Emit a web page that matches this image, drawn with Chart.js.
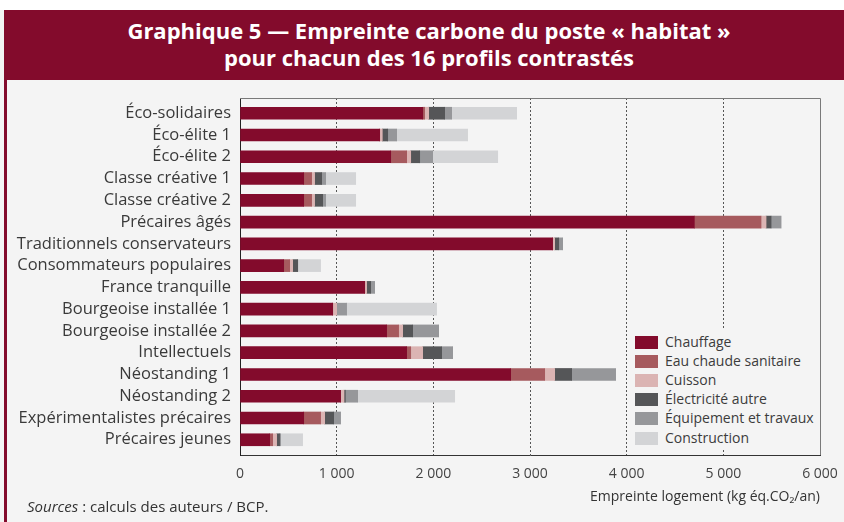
<!DOCTYPE html>
<html>
<head>
<meta charset="utf-8">
<script src="https://cdn.jsdelivr.net/npm/chart.js@4"></script>
<style>
  html, body { margin: 0; padding: 0; }
  body { width: 844px; height: 522px; overflow: hidden; background: #f4f4f4; position: relative; font-family: "Open Sans", sans-serif; }
  #topWhite { position: absolute; left: 0; top: 0; width: 844px; height: 10px; background: #fff; }
  #header { position: absolute; left: 4px; top: 10px; width: 850px; height: 70px; background: #830b2c; color: #fff;
    font: bold 22px "Open Sans", sans-serif; line-height: 27px; text-align: center; padding-top: 7px; box-sizing: border-box; }
  #leftBar { position: absolute; left: 4px; top: 80px; width: 3px; height: 442px; background: #830b2c; }
  #wrap { position: absolute; left: 0; top: 0; width: 844px; height: 522px; }
  #legend { position: absolute; left: 628px; top: 330px; width: 191px; height: 120px; background: #f4f4f4; }
  .item { position: absolute; left: 7px; height: 19px; font-size: 14px; color: #3c3c3c; line-height: 19px; white-space: nowrap; }
  .item span.sw { display: inline-block; width: 23px; height: 13px; vertical-align: -2px; margin-right: 7px; }
  #sources { position: absolute; left: 27px; top: 496px; font-size: 15px; color: #333; }
</style>
</head>
<body>
<div id="wrap"><canvas id="chart" width="844" height="522"></canvas></div>
<div id="topWhite"></div>
<div id="header">Graphique 5 — Empreinte carbone du poste « habitat »<br>pour chacun des 16 profils contrastés</div>
<div id="leftBar"></div>
<div id="legend"></div>
<div id="sources"><i>Sources</i> : calculs des auteurs / BCP.</div>
<script>
// profils (du haut vers le bas)
var categories = ["Éco-solidaires", "Éco-élite 1", "Éco-élite 2", "Classe créative 1", "Classe créative 2",
  "Précaires âgés", "Traditionnels conservateurs", "Consommateurs populaires", "France tranquille",
  "Bourgeoise installée 1", "Bourgeoise installée 2", "Intellectuels", "Néostanding 1", "Néostanding 2",
  "Expérimentalistes précaires", "Précaires jeunes"];

// kg éq.CO2 / an
var chauffage    = [1890, 1445, 1559, 659, 659, 4700, 3234, 452, 1290, 959, 1517, 1724, 2800, 1041, 659, 307];
var eauChaude    = [20, 0, 165, 82, 82, 690, 0, 62, 0, 0, 124, 42, 352, 0, 175, 31];
var cuisson      = [42, 27, 42, 31, 31, 52, 21, 31, 20, 41, 42, 124, 103, 35, 42, 41];
var electricite  = [165, 56, 93, 73, 83, 52, 42, 52, 42, 0, 103, 196, 176, 14, 93, 31];
var equipement   = [73, 93, 134, 41, 31, 103, 41, 0, 41, 103, 269, 114, 455, 127, 72, 11];
var construction = [672, 734, 673, 311, 311, 0, 0, 237, 0, 931, 0, 0, 0, 1004, 0, 227];

var seriesNames = ["Chauffage", "Eau chaude sanitaire", "Cuisson", "Électricité autre", "Équipement et travaux", "Construction"];
var seriesData = [chauffage, eauChaude, cuisson, electricite, equipement, construction];
var colors = ["#830b2c", "#a65a5e", "#dbb4b3", "#555658", "#96979a", "#d3d4d6"];
var xTicks = [0, 1000, 2000, 3000, 4000, 5000, 6000];

function toPoints(arr) {
  return arr.map(function (v, i) { return { x: v, y: i }; });
}

var datasets = seriesData.map(function (arr, k) {
  return {
    label: seriesNames[k],
    data: toPoints(arr),
    backgroundColor: colors[k],
    borderWidth: 0,
    barThickness: 12
  };
});

// cadre haut / droite du graphique
var frame = {
  id: "frame",
  afterDraw: function (chart) {
    var a = chart.chartArea, ctx = chart.ctx;
    ctx.save();
    ctx.strokeStyle = "#7a7a7a";
    ctx.lineWidth = 1;
    ctx.beginPath();
    ctx.moveTo(a.left, a.top + 0.5);
    ctx.lineTo(a.right + 0.5, a.top + 0.5);
    ctx.lineTo(a.right + 0.5, a.bottom);
    ctx.stroke();
    ctx.restore();
  }
};

var fmt = function (v) { return v === 0 ? "0" : (v / 1000) + " 000"; };

var chart = new Chart(document.getElementById("chart"), {
  type: "bar",
  data: { datasets: datasets },
  plugins: [frame],
  options: {
    indexAxis: "y",
    responsive: false,
    animation: false,
    layout: { padding: { left: 0, right: 24, top: 98, bottom: 0 } },
    plugins: { legend: { display: false }, tooltip: { enabled: false } },
    scales: {
      x: {
        type: "linear",
        stacked: true,
        min: 0,
        max: 6000,
        afterBuildTicks: function (s) { s.ticks = xTicks.map(function (v) { return { value: v }; }); },
        afterFit: function (s) { s.height = 67; s.paddingLeft = 0; s.paddingRight = 0; },
        grid: {
          drawTicks: false,
          color: function (c) { return (c.tick && (c.tick.value === 0 || c.tick.value === 6000)) ? "rgba(0,0,0,0)" : "#555"; }
        },
        border: { display: true, color: "#333", width: 1, dash: [2, 2] },
        ticks: {
          padding: 11,
          color: "#444",
          font: { family: "Open Sans", size: 14 },
          callback: function (v) { return fmt(v); }
        },
        title: {
          display: true,
          text: "Empreinte logement (kg éq.CO₂/an)",
          align: "end",
          color: "#333",
          font: { family: "Open Sans", size: 14 },
          padding: { top: 0, bottom: 17 }
        }
      },
      y: {
        type: "linear",
        stacked: true,
        reverse: true,
        offset: false,
        min: -0.7,
        max: 15.7,
        afterBuildTicks: function (s) { s.ticks = categories.map(function (c, i) { return { value: i }; }); },
        afterFit: function (s) { s.width = 240; },
        grid: { display: false, drawTicks: false, offset: false },
        border: { display: true, color: "#222", width: 1 },
        ticks: {
          padding: 9,
          color: "#3a3a3a",
          font: { family: "Open Sans", size: 16.5 },
          autoSkip: false,
          callback: function (v) { return categories[v] || ""; }
        }
      }
    }
  }
});

// légende
var legend = document.getElementById("legend");
seriesNames.forEach(function (name, k) {
  var row = document.createElement("div");
  row.className = "item";
  row.style.top = (2 + k * 19.1) + "px";
  row.innerHTML = '<span class="sw" style="background:' + colors[k] + '"></span>' + name;
  legend.appendChild(row);
});
</script>
</body>
</html>
